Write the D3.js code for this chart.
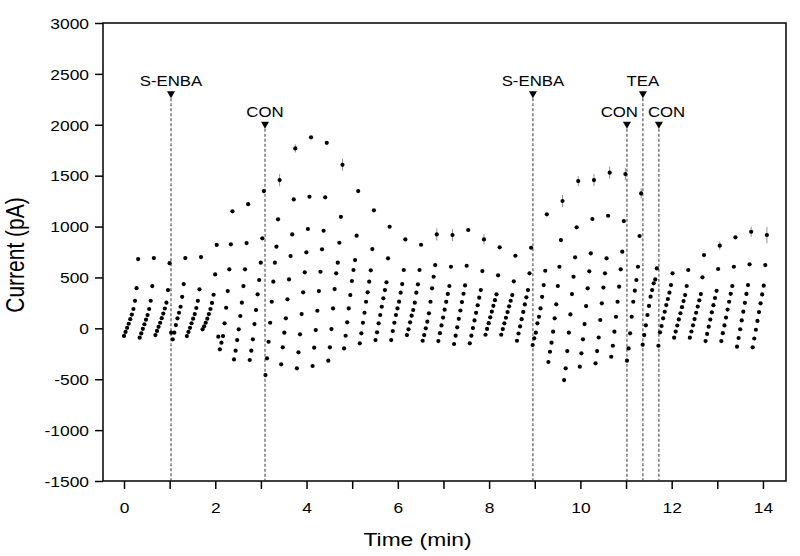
<!DOCTYPE html>
<html><head><meta charset="utf-8">
<script src="https://cdn.jsdelivr.net/npm/d3@7"></script>
<style>body{margin:0;background:#fff}</style></head>
<body><svg id="c" width="800" height="556"></svg>
<script>
// ---- data ----
const sweepInterval = 0.3444;   // min between sweep starts
const pointInterval = 0.03444;  // min between points in a sweep
const sweepValues = [
[-75,-35,5,45,90,135,190,270,395,680],
[-92,-50,-5,40,85,130,190,271,415,690],
[-66,-25,15,55,100,145,195,252,376,640],
[-43,-108,-43,32,98,153,212,310,435,690],
[-76,-35,5,50,95,140,200,270,383,700],
[-10,20,55,95,140,190,250,330,530,820],
[-82,-206,-141,-76,49,202,366,580,825,1150],
[-305,-220,-115,-10,121,252,415,580,838,1220],
[-311,-220,-108,42,180,334,475,645,884,1349],
[-459,-295,-132,55,261,458,645,802,1071,1457],
[-354,-187,-43,98,285,481,710,923,1267,1768],
[-393,-236,-59,140,354,550,747,976,1293,1877],
[-370,-190,-17,173,366,556,776,959,1287,1823],
[-318,-187,-7,196,386,540,645,841,1096,1607],
[-197,-73,59,196,327,465,573,671,910,1349],
[-147,-49,55,153,261,354,458,570,779,1159],
[-115,-39,49,131,212,295,376,452,688,998],
[-115,-27,55,131,196,262,350,435,573,874],
[-66,-10,59,124,180,252,350,432,573,821],
[-122,-66,0,65,147,261,393,507,622,923],
[-125,-48,29,106,183,260,338,416,605,917],
[-154,-72,10,93,175,258,340,422,615,966],
[-147,-72,3,78,152,227,301,376,563,874],
[-63,-6,51,108,164,221,277,334,521,796],
[-63,-7,49,104,160,216,271,327,462,713],
[-122,-51,19,90,161,235,305,376,540,792],
[-164,-98,-43,49,114,196,310,425,566,1120],
[-331,-230,-141,-33,98,236,416,605,867,1251],
[-508,-393,-223,-43,137,337,507,698,992,1447],
[-377,-246,-108,42,219,393,560,737,1074,1457],
[-344,-223,-90,82,246,400,540,688,1106,1529],
[-279,-171,-33,114,261,409,580,753,1054,1516],
[-318,-197,-49,114,261,370,475,605,907,1326],
[-161,-66,30,131,220,311,376,442,481,589],
[-171,-39,23,98,163,229,288,350,425,540],
[-92,-32,28,88,148,208,268,327,416,573],
[-92,-31,30,91,153,214,275,337,501,720],
[-125,-55,16,86,157,228,298,369,583,812],
[-125,-48,29,106,184,261,339,416,605,894],
[-180,-95,-9,78,164,251,338,425,629,949],
[-187,-100,-14,73,160,246,333,419,622,917]
];
const topErr = [0,0,0,0,0,0,0,0,0,60,40,0,0,60,0,0,0,0,0,60,60,0,50,0,0,0,0,60,50,60,60,60,50,0,0,0,0,40,0,50,80];
const markerLabels = ["S-ENBA","CON","S-ENBA","CON","TEA","CON"];
const markerTimes  = [1.03, 3.09, 8.96, 11.02, 11.37, 11.72];
const markerLevels = [2300, 2000, 2300, 2000, 2300, 2000];
const markerLabelAlign = ["middle","middle","middle","end","middle","start"];
const xTicks = [0,1,2,3,4,5,6,7,8,9,10,11,12,13,14];
const xTickLabels = [0,2,4,6,8,10,12,14];
const yTicks = [-1500,-1000,-500,0,500,1000,1500,2000,2500,3000];

// ---- flatten ----
const points = [];
sweepValues.forEach((vals, s) => vals.forEach((v, k) => {
  points.push({t: s*sweepInterval + k*pointInterval, v, err: k === 9 ? topErr[s] : 0});
}));

const svg = d3.select("#c");
const L = 103, R = 786, T = 23, B = 481;
const x = d3.scaleLinear().domain([-0.46, 14.505]).range([L, R]);
const y = d3.scaleLinear().domain([-1500, 3000]).range([B, T]);
const FONT = "'Liberation Sans', Arial, sans-serif";
const SX = 1.2;

svg.append("rect").attr("width",800).attr("height",556).attr("fill","#fff");

// axes
const xAxis = d3.axisBottom(x).tickValues(xTicks).tickSize(8)
  .tickFormat(d => xTickLabels.includes(d) ? String(d) : "");
const gx = svg.append("g").attr("transform",`translate(0,${B})`).call(xAxis);
const yAxis = d3.axisLeft(y).tickValues(yTicks).tickSize(8).tickFormat(d => String(d));
const gy = svg.append("g").attr("transform",`translate(${L},0)`).call(yAxis);
[gx, gy].forEach(g => {
  g.select(".domain").remove();
  g.selectAll(".tick line").attr("stroke","#000").attr("stroke-width",1.5);
  g.selectAll(".tick text").attr("font-family",FONT).attr("font-size",14.5).attr("fill","#000");
});
gx.selectAll(".tick text").each(function(){
  d3.select(this).attr("y", 0).attr("dy", 0).attr("transform", `translate(0,32) scale(${SX},1)`);
});
gy.selectAll(".tick text").each(function(){
  d3.select(this).attr("x", 0).attr("dy", "0.36em").attr("text-anchor","end")
    .attr("transform", `translate(-14,0) scale(${SX},1)`);
});

// frame
svg.append("rect").attr("x",L).attr("y",T).attr("width",R-L).attr("height",B-T)
  .attr("fill","none").attr("stroke","#000").attr("stroke-width",1.5);

// marker lines
markerTimes.forEach((mt, i) => {
  const mx = x(mt), my = y(markerLevels[i]);
  svg.append("line").attr("x1",mx).attr("x2",mx).attr("y1",my+4).attr("y2",B)
    .attr("stroke","#333").attr("stroke-width",1).attr("stroke-dasharray","3,2");
  svg.append("path").attr("d",`M${mx-4},${my-3}L${mx+4},${my-3}L${mx},${my+4}Z`).attr("fill","#000");
  const a = markerLabelAlign[i];
  const dx = a === "end" ? 11 : a === "start" ? -11 : 0;
  svg.append("text").attr("transform",`translate(${mx+dx},${my-8}) scale(${SX},1)`)
    .attr("text-anchor",a).attr("font-family",FONT).attr("font-size",14).text(markerLabels[i]);
});

// error bars
svg.append("g").selectAll("line").data(points.filter(p => p.err > 0)).join("line")
  .attr("x1",d=>x(d.t)).attr("x2",d=>x(d.t)).attr("y1",d=>y(d.v-d.err)).attr("y2",d=>y(d.v+d.err))
  .attr("stroke","#777").attr("stroke-width",0.8);

// points
svg.append("g").selectAll("circle").data(points).join("circle")
  .attr("cx",d=>x(d.t)).attr("cy",d=>y(d.v)).attr("r",2.1).attr("fill","#000");

// titles
svg.append("text").attr("transform",`translate(${(L+R)/2-27},546) scale(${SX},1)`)
  .attr("text-anchor","middle").attr("font-family",FONT).attr("font-size",19).text("Time (min)");
svg.append("text").attr("transform",`translate(24,${(T+B)/2+3}) scale(${SX},1) rotate(-90)`)
  .attr("text-anchor","middle").attr("font-family",FONT).attr("font-size",21).text("Current (pA)");
</script></body></html>
